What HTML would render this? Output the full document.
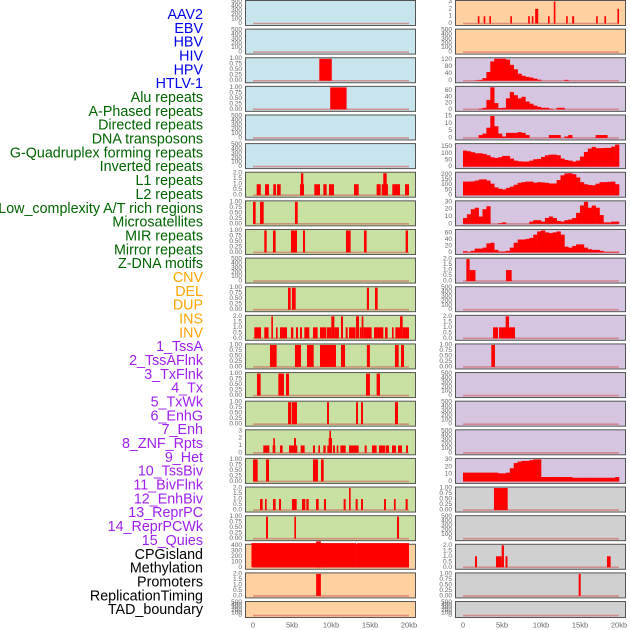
<!DOCTYPE html>
<html><head><meta charset="utf-8"><style>
html,body{margin:0;padding:0;background:#fff;}
#wrap{position:relative;width:630px;height:630px;overflow:hidden;}
svg text{font-family:"Liberation Sans",sans-serif;}
</style></head><body>
<div id="wrap">
<svg id="chart" width="630" height="630"></svg>
</div>
<script>
// ---- labels ----
const trackLabels = ["AAV2","EBV","HBV","HIV","HPV","HTLV-1","Alu repeats","A-Phased repeats","Directed repeats","DNA transposons","G-Quadruplex forming repeats","Inverted repeats","L1 repeats","L2 repeats","Low_complexity A/T rich regions","Microsatellites","MIR repeats","Mirror repeats","Z-DNA motifs","CNV","DEL","DUP","INS","INV","1_TssA","2_TssAFlnk","3_TxFlnk","4_Tx","5_TxWk","6_EnhG","7_Enh","8_ZNF_Rpts","9_Het","10_TssBiv","11_BivFlnk","12_EnhBiv","13_ReprPC","14_ReprPCWk","15_Quies","CPGisland","Methylation","Promoters","ReplicationTiming","TAD_boundary"];
const labelGroupSizes = [6,13,5,15,5];
const xTickValues = [0,5,10,15,20];
const xTickLabels = ["0","5kb","10kb","15kb","20kb"];

// ---- tick sets ----
const ticks500 = [0,100,200,300,400,500];
const ticks01 = [0,0.25,0.5,0.75,1];
const ticks02 = [0,0.5,1,1.5,2];
const ticks03 = [0,1,2,3];
const ticks400 = [0,100,200,300,400];
const ticks120 = [0,40,80,120];
const ticks60 = [0,20,40,60];
const ticks15 = [0,5,10,15];
const ticks150 = [0,50,100,150];
const ticks200 = [0,50,100,150,200];
const ticks30 = [0,10,20,30];

// ---- left column bar data [startKb, endKb, value] ----
const leftHivBars = [[8.5,10.1,1]];
const leftHpvBars = [[9.9,12.0,1]];
const leftAluBars = [[0.47,1.0,1],[1.54,2.05,1],[2.6,2.95,1],[3.08,3.55,1],[6.03,6.54,1],[6.15,6.45,2],[7.86,8.59,1],[9.02,9.44,1],[9.74,10.38,1],[12.95,13.55,1],[15.85,16.37,1],[16.5,17.3,1],[16.7,17.14,2],[17.86,18.85,1],[19.49,20.0,1]];
const leftAPhasedBars = [[0.0,0.34,1],[0.9,1.37,1],[5.38,5.73,1]];
const leftDirectedBars = [[1.45,1.75,1],[2.56,2.9,1],[4.87,5.64,1],[6.41,6.67,1],[11.92,12.52,1],[14.23,14.57,1],[19.57,19.87,1]];
const leftInvertedBars = [[4.49,4.83,1],[4.99,5.47,1],[14.6,14.87,1],[15.64,15.98,1]];
const leftL1Bars = [[0.17,1.03,1],[1.45,2.0,1],[2.35,2.52,2],[2.95,3.16,1],[3.46,4.36,1],[4.87,5.17,1],[5.51,5.77,1],[6.03,6.28,1],[6.58,7.22,1],[7.69,8.29,1],[8.59,9.36,1],[9.44,10.04,1],[10.04,10.43,2],[10.43,11.02,1],[11.28,11.54,2],[11.88,12.14,1],[12.31,13.16,1],[13.21,13.59,2],[13.68,13.93,1],[13.93,14.15,2],[14.15,14.23,1],[14.36,15.21,1],[15.51,16.71,1],[16.92,17.26,1],[17.82,18.03,1],[18.25,18.85,1],[18.85,19.19,2],[19.19,20.0,1]];
const leftL2Bars = [[2.18,3.03,1],[5.38,6.15,1],[6.92,7.78,1],[8.59,10.64,1],[11.28,11.8,1],[14.6,14.99,1],[18.2,18.68,1],[18.98,19.36,1]];
const leftLowComplexBars = [[0.51,0.98,1],[3.25,3.97,1],[4.23,4.62,1],[14.49,14.99,1],[15.85,16.28,1]];
const leftMicrosatBars = [[4.49,4.91,1],[4.99,5.64,1],[9.49,9.74,1],[13.21,13.46,1],[13.85,14.1,1],[18.2,18.59,1]];
const leftMirBars = [[1.32,2.09,1],[2.52,2.86,1],[2.6,2.8,2],[3.46,3.8,1],[4.62,5.68,1],[5.26,5.51,2],[6.11,6.62,1],[7.69,7.95,1],[8.38,8.59,1],[9.02,9.32,1],[9.53,10.09,1],[9.7,10.13,2],[9.79,10.0,3],[10.26,10.51,1],[10.73,10.94,1],[11.2,11.88,1],[12.31,13.55,1],[14.32,14.57,1],[15.26,15.85,1],[16.15,16.92,1],[17.0,17.44,1],[17.82,18.33,1],[18.59,19.1,1],[19.62,19.87,1]];
const leftMirrorBars = [[0.0,0.6,1],[1.67,2.05,1],[7.69,8.33,1],[8.72,9.06,1]];
const leftZdnaBars = [[0.9,1.24,1],[1.54,1.75,1],[2.56,2.9,1],[3.33,3.59,1],[4.99,5.6,1],[6.28,6.71,1],[6.84,7.14,1],[8.08,8.42,1],[9.1,9.36,1],[11.62,11.88,1],[12.31,12.52,2],[13.16,13.42,1],[13.85,14.1,1],[16.8,17.05,1],[18.07,18.29,1],[19.57,19.83,1]];
const leftCnvBars = [[1.67,1.92,1],[5.3,5.51,1],[18.46,18.72,1]];
const leftCpgBars = [[-0.2,13.2,440],[13.2,13.35,425],[13.35,20.0,440],[8.1,8.7,470]];
const leftDelBars = [[8.1,8.7,2]];

// ---- right column data ----
const rightAav2Bars = [[1.9,2.05,1],[2.65,2.8,1],[3.38,3.55,1],[6.07,6.22,1],[8.35,8.5,1],[8.82,8.97,1],[9.25,9.65,2],[10.9,11.05,1],[11.64,11.78,3],[13.22,13.37,1],[14.0,14.25,1],[17.07,17.22,1],[18.13,18.28,1],[19.8,19.95,2]];
const rightHivDensity = [0,0,0,2,5,15,50,110,125,125,125,120,90,65,40,28,22,18,12,6,0,0,0,0,0,0,5,0,0,0,0,0,0,0,0,0,0,0,0,0];
const rightHpvDensity = [0,0,0,0,2,5,30,70,20,4,5,35,55,45,35,40,25,18,12,8,5,5,2,0,5,5,0,0,0,0,0,0,0,0,0,0,0,0,0,0];
const rightHtlvDensity = [0,0,0,0,2,3,7,15,8,3,1,3.5,3.5,3.5,4,3.5,2,0,0,0,0,0,2,2,2,0,1,2,0,0,0,0,0,0,2,2,2,0,0,0];
const rightAluDensity = [120,115,108,100,100,95,85,70,65,70,80,80,60,45,40,38,38,45,55,58,72,85,90,90,85,60,50,45,38,45,75,110,135,148,138,138,140,140,150,165];
const rightAPhasedDensity = [130,130,132,140,150,152,140,110,75,62,55,70,82,100,118,125,130,130,120,125,122,118,112,112,145,190,208,210,200,170,125,105,98,95,110,125,125,128,130,105];
const rightDirectedDensity = [8,13,20,22,10,20,24,0,0,1,2,0,0,0,0,0,0,3,5,5,3,8,10,8,4,3,5,6,8,15,25,30,22,25,22,12,2,2,3,3];
const rightDnaDensity = [4,2,5,12,12,15,28,30,8,3,3,5,15,30,40,40,42,45,55,65,68,62,60,62,65,55,18,15,20,25,25,15,10,8,8,5,2,2,2,2];
const rightGquadBars = [[0.43,0.85,2],[0.85,1.6,1],[5.51,6.24,1]];
const rightL1Bars = [[3.85,4.49,1],[4.62,6.67,1],[5.47,5.9,2]];
const rightL2Bars = [[3.63,4.1,1]];
const rightZdnaDensity = [12,12,12,12,12,12,12,12,12,11,11,12,18,25,27,28,28,29,30,30,6,6,6,6,6,6,6,6,5,5,5,5,5,5,5,5,5,5,5,6];
const rightCnvBars = [[3.97,5.73,1]];
const rightInvBars = [[1.54,1.79,1],[4.23,4.96,1],[4.96,5.25,2],[5.45,5.7,1],[18.46,18.93,1]];
const rightTssaBars = [[14.83,15.09,1]];

// ---- colours ----
const BLUE = "#c8e4ec", PEACH = "#ffd1a0", GREEN = "#c8e0a2", LAV = "#d5c5e1", GREY = "#d0d0d0";

const leftPanels = [
 {bg:BLUE,ticks:ticks500,bars:[]},
 {bg:BLUE,ticks:ticks500,bars:[]},
 {bg:BLUE,ticks:ticks01,bars:leftHivBars},
 {bg:BLUE,ticks:ticks01,bars:leftHpvBars},
 {bg:BLUE,ticks:ticks500,bars:[]},
 {bg:BLUE,ticks:ticks500,bars:[]},
 {bg:GREEN,ticks:ticks02,bars:leftAluBars},
 {bg:GREEN,ticks:ticks01,bars:leftAPhasedBars},
 {bg:GREEN,ticks:ticks01,bars:leftDirectedBars},
 {bg:GREEN,ticks:ticks500,bars:[]},
 {bg:GREEN,ticks:ticks01,bars:leftInvertedBars},
 {bg:GREEN,ticks:ticks02,bars:leftL1Bars},
 {bg:GREEN,ticks:ticks01,bars:leftL2Bars},
 {bg:GREEN,ticks:ticks01,bars:leftLowComplexBars},
 {bg:GREEN,ticks:ticks01,bars:leftMicrosatBars},
 {bg:GREEN,ticks:ticks03,bars:leftMirBars},
 {bg:GREEN,ticks:ticks01,bars:leftMirrorBars},
 {bg:GREEN,ticks:ticks02,bars:leftZdnaBars},
 {bg:GREEN,ticks:ticks01,bars:leftCnvBars},
 {bg:PEACH,ticks:ticks400,bars:leftCpgBars},
 {bg:PEACH,ticks:ticks02,bars:leftDelBars},
 {bg:PEACH,ticks:ticks500,bars:[]}
];
const rightPanels = [
 {bg:PEACH,ticks:ticks03,bars:rightAav2Bars},
 {bg:PEACH,ticks:ticks500,bars:[]},
 {bg:LAV,ticks:ticks120,dens:rightHivDensity},
 {bg:LAV,ticks:ticks60,dens:rightHpvDensity},
 {bg:LAV,ticks:ticks15,dens:rightHtlvDensity},
 {bg:LAV,ticks:ticks150,dens:rightAluDensity},
 {bg:LAV,ticks:ticks200,dens:rightAPhasedDensity},
 {bg:LAV,ticks:ticks30,dens:rightDirectedDensity},
 {bg:LAV,ticks:ticks60,dens:rightDnaDensity},
 {bg:LAV,ticks:ticks02,bars:rightGquadBars},
 {bg:LAV,ticks:ticks500,bars:[]},
 {bg:LAV,ticks:ticks02,bars:rightL1Bars},
 {bg:LAV,ticks:ticks01,bars:rightL2Bars},
 {bg:LAV,ticks:ticks500,bars:[]},
 {bg:LAV,ticks:ticks500,bars:[]},
 {bg:LAV,ticks:ticks500,bars:[]},
 {bg:LAV,ticks:ticks30,dens:rightZdnaDensity},
 {bg:GREY,ticks:ticks01,bars:rightCnvBars},
 {bg:GREY,ticks:ticks500,bars:[]},
 {bg:GREY,ticks:ticks02,bars:rightInvBars},
 {bg:GREY,ticks:ticks01,bars:rightTssaBars},
 {bg:GREY,ticks:ticks500,bars:[]}
];

const NS = "http://www.w3.org/2000/svg";
const svg = document.getElementById('chart');
function mk(tag, attrs, parent){
  const e = document.createElementNS(NS, tag);
  for (const k in attrs) e.setAttribute(k, attrs[k]);
  (parent||svg).appendChild(e);
  return e;
}
function fmtTick(ticks, v){
  const top = ticks[ticks.length-1];
  if (top === 1) return v.toFixed(2);
  if (top === 2) return v.toFixed(1);
  return String(v);
}

// labels
const labelColors = ["#0000ee","#006400","#ffa500","#a020f0","#000000"];
let li = 0;
labelGroupSizes.forEach((n, g) => {
  for (let j = 0; j < n; j++, li++) {
    const t = mk('text', {x:203, y:15 + li*13.84, 'text-anchor':'end', 'dominant-baseline':'central', 'font-size':14.3, fill:labelColors[g]});
    
    
    t.textContent = trackLabels[li];
  }
});

const ROW = 28.62;
function drawColumn(panels, px, x0, colName){
  const xScale = kb => x0 + kb * 7.8;
  panels.forEach((p, i) => {
    const top = i * ROW;
    const h = (i === panels.length-1) ? 16 : 25;
    const g = mk('g', {});
    
    
    mk('rect', {x:px+0.5, y:top+0.5, width:170, height:h, fill:p.bg, stroke:'#555', 'stroke-width':1}, g);
    let ymax = p.ticks[p.ticks.length-1];
    if (p.dens) ymax = Math.max(ymax, ...p.dens);
    const y0 = top + h - 1.5, y1 = top + 1.5;
    const yScale = v => y0 - (v / ymax) * (y0 - y1);
    mk('line', {x1:xScale(0), x2:xScale(20), y1:y0, y2:y0, stroke:'#d06060', 'stroke-width':1.6, opacity:0.6}, g);
    if (p.bars) {
      p.bars.forEach(b => {
        const xa = xScale(b[0]), xb = xScale(b[1]);
        const w = Math.max(xb - xa, 1.6);
        const r = mk('rect', {x:xa, y:yScale(b[2]), width:w, height:y0 - yScale(b[2]), fill:'#ff0000'}, g);
        
        
      });
    }
    if (p.dens) {
      p.dens.forEach((v, k) => {
        if (v <= 0) return;
        const xa = xScale(k*0.5), xb = xScale((k+1)*0.5);
        const r = mk('rect', {x:xa, y:yScale(v), width:xb - xa + 0.3, height:y0 - yScale(v), fill:'#ff0000'}, g);
        
        
      });
    }
    p.ticks.forEach(tv => {
      const t = mk('text', {x:px-3, y:yScale(tv), 'text-anchor':'end', 'dominant-baseline':'central', 'font-size':6.5, fill:'#666'}, g);
      
      
      t.textContent = fmtTick(p.ticks, tv);
    });
  });
  xTickValues.forEach((v, k) => {
    const t = mk('text', {x:xScale(v), y:625, 'text-anchor':'middle', 'dominant-baseline':'central', 'font-size':7.5, fill:'#666'});
    
    
    t.textContent = xTickLabels[k];
  });
}
drawColumn(leftPanels, 245, 253, 'left');
drawColumn(rightPanels, 455, 463, 'right');
</script>
</body></html>
